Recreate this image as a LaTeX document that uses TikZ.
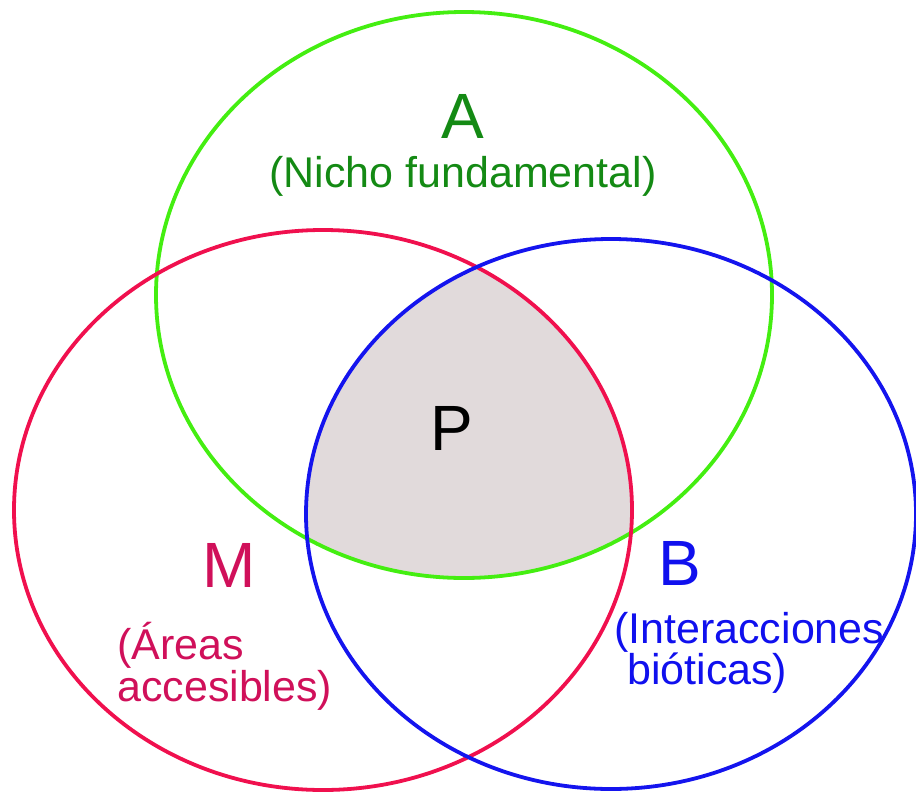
\documentclass[tikz,border=0pt]{standalone}
\usepackage{fontspec}
\setmainfont{Liberation Sans}
\definecolor{gline}{HTML}{44EE11}
\definecolor{gtext}{HTML}{148A14}
\definecolor{rline}{HTML}{F0104E}
\definecolor{rtext}{HTML}{D0105A}
\definecolor{bline}{HTML}{1414EE}
\definecolor{btext}{HTML}{1010EE}
\definecolor{pfill}{HTML}{E1DADB}
\begin{document}
\begin{tikzpicture}[x=1pt,y=-1pt,
  ring/.style={line width=3.8pt},
  big/.style={font=\fontsize{64}{70}\selectfont, anchor=base, inner sep=0pt},
  small/.style={font=\fontsize{43}{42}\selectfont, anchor=base west, inner sep=0pt}]
\useasboundingbox (0,0) rectangle (916,793);
% intersection fill
\begin{scope}
  \clip (464,295) ellipse [x radius=308, y radius=283];
  \clip (323,510) ellipse [x radius=309, y radius=280];
  \fill[pfill] (611,514) ellipse [x radius=305, y radius=275];
\end{scope}
\draw[ring, gline] (464,295) ellipse [x radius=308, y radius=283];
\draw[ring, rline] (323,510) ellipse [x radius=309, y radius=280];
\draw[ring, bline] (611,514) ellipse [x radius=305, y radius=275];
% labels
\node[big, gtext] (A) at (463,138) {A};
\node[small, gtext, anchor=base] (An) at (463,187) {(Nicho fundamental)};
\node[big, black] (P) at (452,450) {P};
\node[big, rtext] (M) at (229,587) {M};
\node[small, rtext] (M1) at (117,659) {(Áreas};
\node[small, rtext] (M2) at (117,701) {accesibles)};
\node[big, btext] (B) at (680,585) {B};
\node[small, btext] (B1) at (614,643) {(Interacciones};
\node[small, btext] (B2) at (627,684) {bióticas)};
\end{tikzpicture}
\end{document}
